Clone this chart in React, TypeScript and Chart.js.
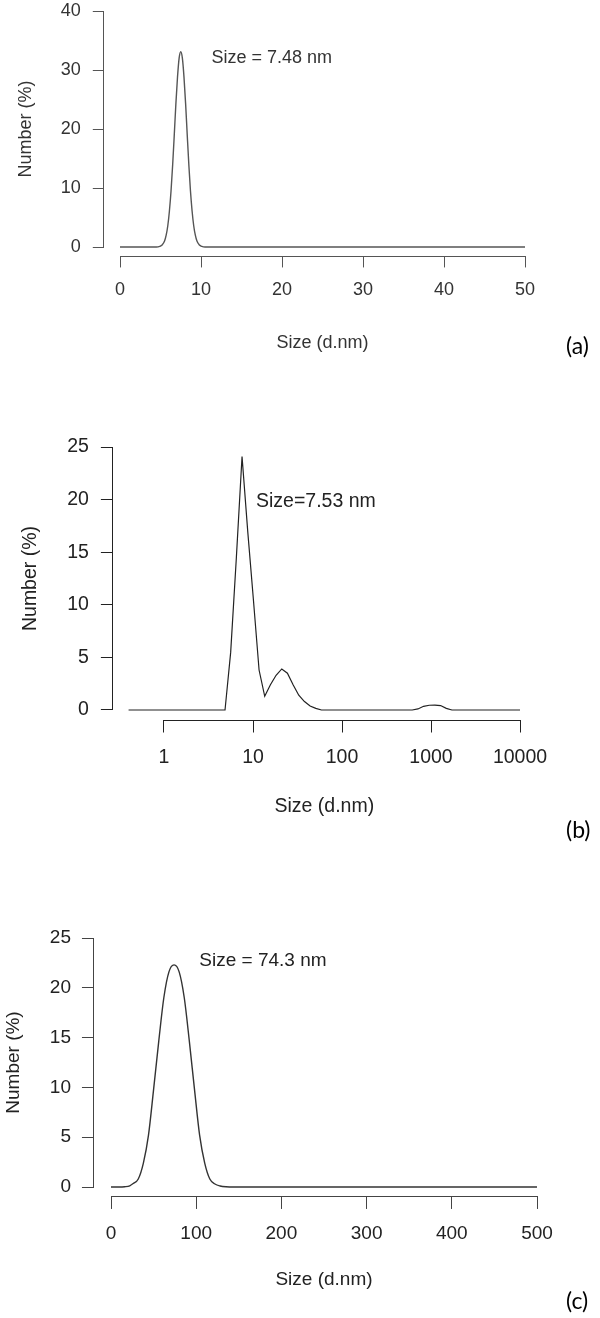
import React, { useEffect, useRef } from "react";
import { Chart, registerables } from "chart.js";

Chart.register(...registerables);

// ---------- Panel (a) : linear x, 0..50 nm ----------
const SIZE_A = [0, 4.5, 4.9, 5.2, 5.5, 5.7, 5.9, 6.1, 6.3, 6.5, 6.7, 6.9, 7.1, 7.3, 7.5, 7.7, 7.9, 8.1, 8.3, 8.5, 8.7, 8.9, 9.1, 9.3, 9.5, 9.8, 10.1, 10.5, 50];
const NUM_A = [0, 0, 0.1, 0.34, 1.0, 2.0, 3.6, 6.1, 9.5, 13.9, 19.0, 24.3, 28.8, 32.0, 33.1, 32.0, 28.8, 24.3, 19.0, 13.9, 9.5, 6.1, 3.6, 2.0, 1.0, 0.34, 0.1, 0, 0];
const XTICKS_A = [0, 10, 20, 30, 40, 50];
const YTICKS_A = [0, 10, 20, 30, 40];
const NOTE_A = "Size = 7.48 nm";
const NOTE_A_AT = [11.3, 31.2];

// ---------- Panel (b) : log x, 0.4..10000 nm (instrument size classes) ----------
const SIZE_B = [0.4, 4.849, 5.615, 6.503, 7.531, 8.721, 10.1, 11.7, 13.54, 15.69, 18.17, 21.04, 24.36, 28.21, 32.67, 37.84, 43.82, 50.75, 58.77, 615.1, 712.4, 825.0, 955.4, 1106, 1281, 1484, 1718, 10000];
const NUM_B = [0, 0, 5.5, 14.5, 24.1, 17.0, 10.5, 3.8, 1.3, 2.4, 3.3, 3.9, 3.5, 2.4, 1.4, 0.8, 0.38, 0.15, 0, 0, 0.1, 0.35, 0.45, 0.47, 0.42, 0.15, 0, 0];
const XTICKS_B = [1, 10, 100, 1000, 10000];
const YTICKS_B = [0, 5, 10, 15, 20, 25];
const NOTE_B = "Size=7.53 nm";
const NOTE_B_AT = [10.81, 19.3];

// ---------- Panel (c) : linear x, 0..500 nm ----------
const SIZE_C = [0, 10, 16, 22, 26, 32, 38, 44, 50, 56, 62, 68, 74, 80, 86, 92, 98, 104, 110, 116, 122, 128, 135, 145, 500];
const NUM_C = [0, 0, 0.03, 0.12, 0.35, 0.8, 2.4, 5.2, 9.8, 14.6, 19.0, 21.6, 22.3, 21.6, 19.0, 14.6, 9.8, 5.2, 2.4, 0.8, 0.3, 0.1, 0.02, 0, 0];
const XTICKS_C = [0, 100, 200, 300, 400, 500];
const YTICKS_C = [0, 5, 10, 15, 20, 25];
const NOTE_C = "Size = 74.3 nm";
const NOTE_C_AT = [103.6, 22.2];

const X_TITLE = "Size (d.nm)";
const Y_TITLE = "Number (%)";
const PANEL_LABELS = ["(a)", "(b)", "(c)"];

const FAMILY = '"Liberation Sans", Arial, Helvetica, sans-serif';

type Spec = {
  sizes: number[];
  nums: number[];
  xType: "linear" | "logarithmic";
  xMin: number;
  xMax: number;
  yMin: number;
  yMax: number;
  xTicks: number[];
  yTicks: number[];
  note: string;
  noteAt: number[];
  top: number;
  height: number;
  area: { left: number; right: number; top: number; bottom: number };
  font: number;
  text: string;
  line: string;
  axis: string;
  lineWidth: number;
  yTitleX: number;
  xTitleY: number;
  tickLen: number;
  yPad: number;
  xPad: number;
  smooth: boolean;
};

const SPECS: Spec[] = [
  {
    sizes: SIZE_A, nums: NUM_A, xType: "linear",
    xMin: -2, xMax: 52, yMin: -1.6, yMax: 41.6,
    xTicks: XTICKS_A, yTicks: YTICKS_A, note: NOTE_A, noteAt: NOTE_A_AT,
    top: 0, height: 360,
    area: { left: 103.8, right: 541.2, top: 1.56, bottom: 256.44 },
    font: 18, text: "#333333", line: "#555555", axis: "#555555", lineWidth: 1.4,
    yTitleX: 26.5, xTitleY: 343, tickLen: 11, yPad: 12, xPad: 12, smooth: true,
  },
  {
    sizes: SIZE_B, nums: NUM_B, xType: "logarithmic",
    xMin: Math.pow(10, -0.574), xMax: Math.pow(10, 4.176), yMin: -1, yMax: 26,
    xTicks: XTICKS_B, yTicks: YTICKS_B, note: NOTE_B, noteAt: NOTE_B_AT,
    top: 380, height: 450,
    area: { left: 112.9, right: 535.7, top: 56.5, bottom: 340.5 },
    font: 19.5, text: "#222222", line: "#222222", axis: "#222222", lineWidth: 1.2,
    yTitleX: 31, xTitleY: 427, tickLen: 12, yPad: 12, xPad: 13, smooth: false,
  },
  {
    sizes: SIZE_C, nums: NUM_C, xType: "linear",
    xMin: -20, xMax: 520, yMin: -1, yMax: 26,
    xTicks: XTICKS_C, yTicks: YTICKS_C, note: NOTE_C, noteAt: NOTE_C_AT,
    top: 880, height: 438,
    area: { left: 93.96, right: 554.04, top: 48.04, bottom: 316.96 },
    font: 19, text: "#222222", line: "#333333", axis: "#444444", lineWidth: 1.4,
    yTitleX: 14, xTitleY: 400, tickLen: 12, yPad: 11, xPad: 13, smooth: true,
  },
];

const LABEL_POS = [
  { top: 334 },
  { top: 818 },
  { top: 1289 },
];

function align(p: number) {
  return Math.round(p - 0.5) + 0.5;
}

function Panel({ spec }: { spec: Spec }) {
  const ref = useRef<HTMLCanvasElement | null>(null);

  useEffect(() => {
    const canvas = ref.current;
    if (!canvas) return;
    const s = spec;
    const lh = s.font * 1.2;
    const points = s.sizes.map((v, i) => ({ x: v, y: s.nums[i] }));

    const extras = {
      id: "extras",
      afterDraw(chart: any) {
        const { ctx, chartArea } = chart;
        const x = chart.scales.x;
        const y = chart.scales.y;
        ctx.save();
        ctx.strokeStyle = s.axis;
        ctx.lineWidth = 1;
        ctx.lineCap = "square";
        // y axis line (R style: spans first..last tick)
        const ax = align(chartArea.left);
        ctx.beginPath();
        ctx.moveTo(ax, align(y.getPixelForValue(s.yTicks[0])));
        ctx.lineTo(ax, align(y.getPixelForValue(s.yTicks[s.yTicks.length - 1])));
        ctx.stroke();
        // x axis line
        const ay = align(chartArea.bottom);
        ctx.beginPath();
        ctx.moveTo(align(x.getPixelForValue(s.xTicks[0])), ay);
        ctx.lineTo(align(x.getPixelForValue(s.xTicks[s.xTicks.length - 1])), ay);
        ctx.stroke();
        // annotation
        ctx.fillStyle = s.text;
        ctx.font = `${s.font}px ${FAMILY}`;
        ctx.textAlign = "left";
        ctx.textBaseline = "alphabetic";
        ctx.fillText(s.note, x.getPixelForValue(s.noteAt[0]), y.getPixelForValue(s.noteAt[1]));
        ctx.restore();
      },
    };

    const zeroPad = (sc: any) => {
      sc.paddingLeft = 0;
      sc.paddingRight = 0;
      sc.paddingTop = 0;
      sc.paddingBottom = 0;
    };

    const chart = new Chart(canvas, {
      type: "line",
      data: {
        datasets: [
          {
            data: points,
            borderColor: s.line,
            borderWidth: s.lineWidth,
            pointRadius: 0,
            fill: false,
            tension: s.smooth ? 0.4 : 0,
            cubicInterpolationMode: s.smooth ? "monotone" : "default",
          } as any,
        ],
      },
      options: {
        animation: false,
        responsive: false,
        maintainAspectRatio: false,
        devicePixelRatio: 1,
        events: [],
        layout: {
          padding: { left: 0, right: 600 - s.area.right, top: s.area.top, bottom: 0 },
        },
        plugins: {
          legend: { display: false },
          tooltip: { enabled: false },
        },
        scales: {
          x: {
            type: s.xType,
            min: s.xMin,
            max: s.xMax,
            bounds: "data",
            afterBuildTicks: (sc: any) => {
              sc.ticks = s.xTicks.map((v) => ({ value: v }));
            },
            afterFit: (sc: any) => {
              sc.height = s.height - s.area.bottom;
              zeroPad(sc);
            },
            grid: {
              drawOnChartArea: false,
              drawTicks: true,
              tickLength: s.tickLen,
              color: s.axis,
              lineWidth: 1,
            },
            border: { display: false },
            ticks: {
              autoSkip: false,
              maxRotation: 0,
              minRotation: 0,
              padding: s.xPad,
              color: s.text,
              font: { family: FAMILY, size: s.font, lineHeight: 1.2 },
              callback: (v: any) => String(v),
            },
            title: {
              display: true,
              text: X_TITLE,
              color: s.text,
              font: { family: FAMILY, size: s.font, lineHeight: 1.2 },
              padding: { top: 0, bottom: s.height - s.xTitleY - lh / 2 },
            },
          } as any,
          y: {
            type: "linear",
            min: s.yMin,
            max: s.yMax,
            bounds: "data",
            afterBuildTicks: (sc: any) => {
              sc.ticks = s.yTicks.map((v) => ({ value: v }));
            },
            afterFit: (sc: any) => {
              sc.width = s.area.left;
              zeroPad(sc);
            },
            grid: {
              drawOnChartArea: false,
              drawTicks: true,
              tickLength: s.tickLen,
              color: s.axis,
              lineWidth: 1,
            },
            border: { display: false },
            ticks: {
              autoSkip: false,
              padding: s.yPad,
              color: s.text,
              font: { family: FAMILY, size: s.font, lineHeight: 1.2 },
              callback: (v: any) => String(v),
            },
            title: {
              display: true,
              text: Y_TITLE,
              color: s.text,
              font: { family: FAMILY, size: s.font, lineHeight: 1.2 },
              padding: { top: s.yTitleX - lh / 2, bottom: 0 },
            },
          } as any,
        },
      },
      plugins: [extras],
    });

    return () => chart.destroy();
  }, [spec]);

  return (
    <canvas
      ref={ref}
      width={600}
      height={spec.height}
      style={{ position: "absolute", left: 0, top: spec.top, width: 600, height: spec.height, display: "block" }}
    />
  );
}

export default function App() {
  return (
    <div
      style={{
        position: "absolute",
        left: 0,
        top: 0,
        width: 600,
        height: 1318,
        background: "#ffffff",
        overflow: "hidden",
      }}
    >
      {SPECS.map((s, i) => (
        <Panel key={i} spec={s} />
      ))}
      {PANEL_LABELS.map((t, i) => (
        <div
          key={t}
          style={{
            position: "absolute",
            left: 566,
            top: LABEL_POS[i].top,
            fontFamily: "Lato, 'Open Sans', sans-serif",
            fontSize: 23,
            lineHeight: "23px",
            color: "#000",
          }}
        >
          {t}
        </div>
      ))}
    </div>
  );
}
